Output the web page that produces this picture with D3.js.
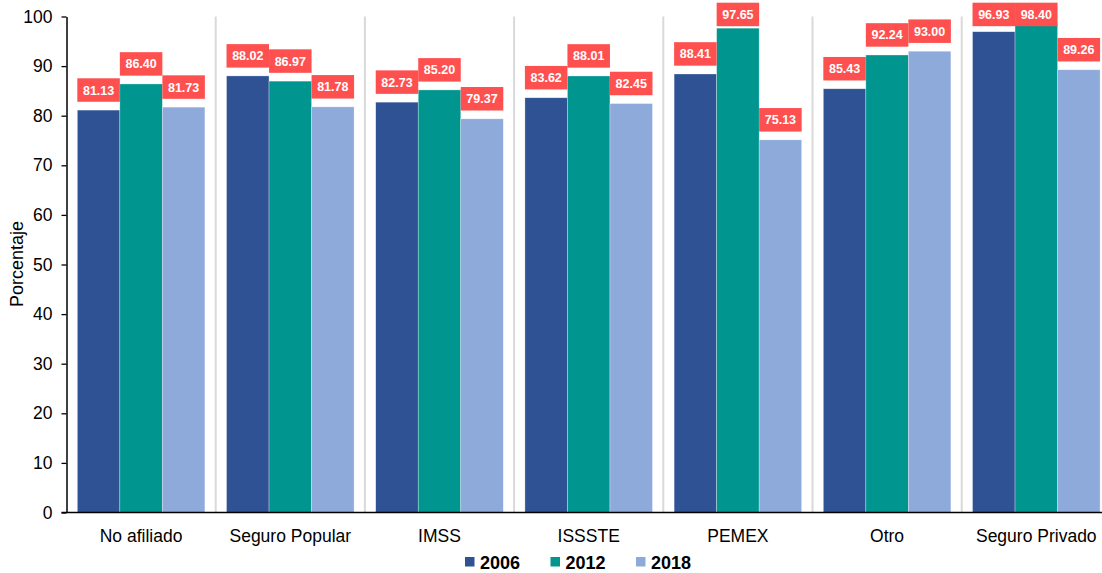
<!DOCTYPE html>
<html>
<head>
<meta charset="utf-8">
<script src="https://cdn.jsdelivr.net/npm/d3@7"></script>
<style>
  html, body { margin: 0; padding: 0; background: #ffffff; }
  svg { display: block; font-family: "Liberation Sans", Arial, sans-serif; }
</style>
</head>
<body>
<svg id="chart" width="1102" height="573"></svg>
<script>
// Categories and yearly percentages
const categories = ["No afiliado", "Seguro Popular", "IMSS", "ISSSTE", "PEMEX", "Otro", "Seguro Privado"];
const years = ["2006", "2012", "2018"];
const values2006 = [81.13, 88.02, 82.73, 83.62, 88.41, 85.43, 96.93];
const values2012 = [86.40, 86.97, 85.20, 88.01, 97.65, 92.24, 98.40];
const values2018 = [81.73, 81.78, 79.37, 82.45, 75.13, 93.00, 89.26];
const yTicks = [0, 10, 20, 30, 40, 50, 60, 70, 80, 90, 100];
const colors = ["#2f5294", "#00968f", "#8eaadb"];

const seriesValues = [values2006, values2012, values2018];
const rows = [];
categories.forEach((c, i) => {
  years.forEach((yr, j) => rows.push({ category: c, year: yr, value: seriesValues[j][i] }));
});

const svg = d3.select("#chart");
const W = 1102, H = 573;
const plotLeft = 66.5, plotTop = 16.5, plotBottom = 512.5;
const step = 149.2;

const x = d3.scaleBand()
  .domain(categories)
  .range([plotLeft, plotLeft + step * categories.length])
  .paddingInner(0.145)
  .paddingOuter(0.0725);
const xi = d3.scaleBand().domain(years).range([0, x.bandwidth()]).padding(0);
const y = d3.scaleLinear().domain([0, 100]).range([plotBottom, plotTop]);
const color = d3.scaleOrdinal().domain(years).range(colors);

// Group separators
svg.append("g")
  .selectAll("line")
  .data(categories.slice(1))
  .join("line")
  .attr("x1", d => x(d) - x.step() * x.paddingInner() / 2)
  .attr("x2", d => x(d) - x.step() * x.paddingInner() / 2)
  .attr("y1", y(100))
  .attr("y2", y(0))
  .attr("stroke", "#d9d9d9")
  .attr("stroke-width", 2);

// Bars
svg.append("g")
  .selectAll("rect")
  .data(rows)
  .join("rect")
  .attr("x", d => x(d.category) + xi(d.year))
  .attr("y", d => y(d.value))
  .attr("width", xi.bandwidth())
  .attr("height", d => y(0) - y(d.value))
  .attr("fill", d => color(d.year))
  .attr("stroke", "#ffffff")
  .attr("stroke-opacity", 0.5)
  .attr("stroke-width", 0.6);

// Value labels
const boxH = 23.5, gap = 8.3;
const labels = svg.append("g")
  .selectAll("g")
  .data(rows)
  .join("g")
  .attr("transform", d => {
    const by = Math.max(2.7, y(d.value) - gap - boxH);
    return `translate(${x(d.category) + xi(d.year)},${by})`;
  });
labels.append("rect")
  .attr("width", xi.bandwidth())
  .attr("height", boxH)
  .attr("fill", "#ff5050");
labels.append("text")
  .attr("x", xi.bandwidth() / 2)
  .attr("y", boxH / 2 + 4.5)
  .attr("text-anchor", "middle")
  .attr("fill", "#ffffff")
  .attr("font-weight", "bold")
  .attr("font-size", "12.5px")
  .text(d => d.value.toFixed(2));

// Y axis
const yAxis = svg.append("g")
  .attr("transform", `translate(${plotLeft},0)`)
  .call(d3.axisLeft(y).tickValues(yTicks).tickSize(5).tickPadding(9).tickSizeOuter(0));
yAxis.select(".domain").attr("stroke", "#000").attr("stroke-width", 1.5);
yAxis.selectAll(".tick line").attr("stroke", "#000").attr("stroke-width", 1.3);
yAxis.selectAll(".tick text")
  .attr("font-size", "17.5px")
  .attr("font-family", "Liberation Sans, Arial, sans-serif")
  .attr("fill", "#000");

// X axis baseline
svg.append("line")
  .attr("x1", plotLeft - 5)
  .attr("x2", W)
  .attr("y1", y(0))
  .attr("y2", y(0))
  .attr("stroke", "#000")
  .attr("stroke-width", 1.5);

// Category labels
svg.append("g")
  .selectAll("text")
  .data(categories)
  .join("text")
  .attr("x", d => x(d) + x.bandwidth() / 2)
  .attr("y", 542)
  .attr("text-anchor", "middle")
  .attr("font-size", "17.5px")
  .attr("fill", "#000")
  .text(d => d);

// Y axis title
svg.append("text")
  .attr("transform", "translate(23,264) rotate(-90)")
  .attr("text-anchor", "middle")
  .attr("font-size", "18px")
  .attr("fill", "#000")
  .text("Porcentaje");

// Legend
const legend = svg.append("g")
  .selectAll("g")
  .data(years)
  .join("g")
  .attr("transform", (d, i) => `translate(${465 + i * 85.5},557)`);
legend.append("rect")
  .attr("width", 9.5)
  .attr("height", 9.5)
  .attr("fill", d => color(d));
legend.append("text")
  .attr("x", 15)
  .attr("y", 11.7)
  .attr("font-size", "18px")
  .attr("font-weight", "bold")
  .attr("fill", "#000")
  .text(d => d);
</script>
</body>
</html>
